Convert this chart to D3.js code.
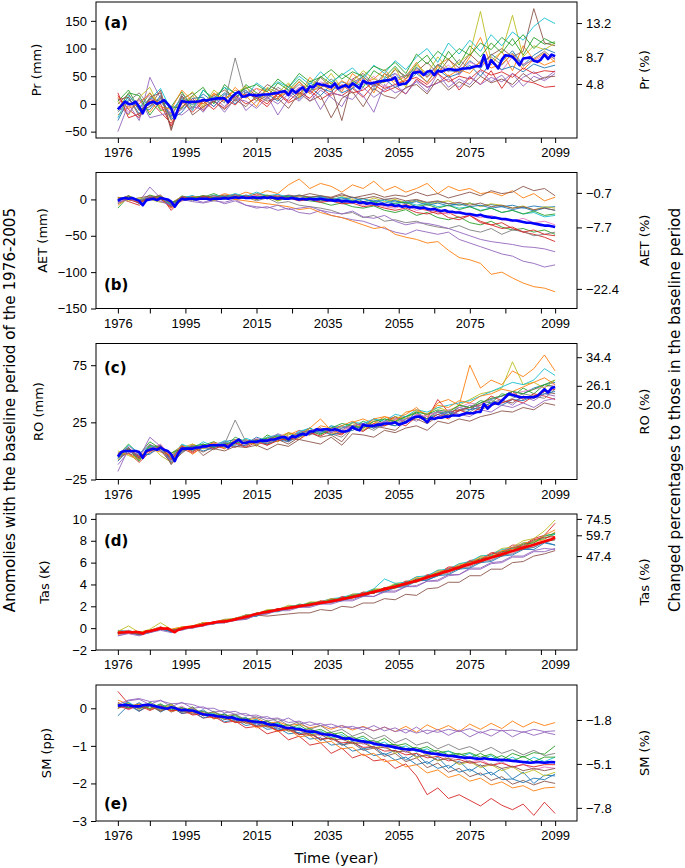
<!DOCTYPE html>
<html>
<head>
<meta charset="utf-8">
<script src="https://cdn.jsdelivr.net/npm/d3@7"></script>
<style>
body { margin: 0; background: #fff; }
svg { font-family: "DejaVu Sans", sans-serif; }
</style>
</head>
<body>
<div id="container"></div>
<script>
// years: ensemble members are read every 3 years, the ensemble mean every year
const memberYears = d3.range(1976, 2100, 3)
const meanYears = d3.range(1976, 2100)
const xTicks = [1976, 1985, 1995, 2005, 2015, 2025, 2035, 2045, 2055, 2065, 2075, 2085, 2095, 2099]
const xTickLabels = [1976, 1995, 2015, 2035, 2055, 2075, 2099]

// (a) precipitation anomaly (mm)
const prTicks = [-50, 0, 50, 100, 150]
const prPctAt = [146, 85, 36]
const prPctLabels = ["13.2", "8.7", "4.8"]
const prMean = [-10,-3,4,0,0,4,-5,-17,-2,2, 4,0,3,7,0,-8,-26,-8,5,4, 3,4,4,5,7,6,8,9,10,10,
  10,3,12,18,22,13,14,17,16,15, 16,17,17,18,19,20,22,23,16,26, 20,25,30,22,32,30,37,35,34,32,
  30,37,28,31,34,30,37,33,28,42, 38,37,38,40,41,42,43,44,48,34, 36,37,43,56,57,58,52,58,60,52,
  60,58,61,63,62,61,62,64,64,65, 67,68,68,88,64,79,72,64,80,88, 87,85,78,70,82,83,84,78,76,80,
  89,81,89,86]
const prMembers = [
  [-8,12,-18,10,5,-22,14,-2,18,3,20,12,25,6,28,12,30,18,38,28,22,40,33,50,30,46,55,34,66,52,70,60,58,78,64,90,76,96,70,88,100,92],
  [-20,-5,8,-15,12,-30,0,15,-8,20,5,30,10,28,22,8,35,15,48,30,40,22,55,38,45,62,40,50,75,48,70,82,55,85,120,70,95,60,105,80,92,75],
  [5,25,-10,20,-12,-5,22,-8,25,10,30,5,35,20,12,38,25,45,28,50,36,55,42,30,60,48,68,45,72,88,60,95,70,105,85,110,92,118,88,120,108,112],
  [15,-10,-25,5,-15,-35,-5,10,-12,5,-8,15,0,10,-5,18,2,12,25,8,20,15,28,12,35,22,30,18,45,30,38,52,25,48,35,60,28,55,42,38,30,32],
  [-50,0,-30,48,10,-20,-10,5,-15,12,-5,20,-12,5,15,-20,10,30,5,25,12,-5,30,15,-15,35,20,28,40,22,55,30,45,35,60,40,52,30,48,58,45,60],
  [0,18,-12,-5,25,-45,8,20,0,15,25,10,30,15,35,25,18,40,22,48,30,-30,45,55,35,40,62,50,58,75,55,80,65,90,72,88,100,85,95,172,110,105],
  [10,-15,5,15,-8,-15,12,-10,10,-5,15,5,20,28,10,25,15,30,20,40,32,25,45,35,50,30,55,45,62,50,58,70,52,75,68,80,60,85,72,78,88,82],
  [-15,5,20,-5,10,-25,18,0,5,15,2,83,12,20,8,30,18,35,25,28,45,30,38,50,32,55,45,52,65,48,72,58,80,62,75,85,70,92,68,82,95,80],
  [5,-20,12,30,-10,-18,5,22,-5,25,10,18,32,5,30,20,38,12,42,30,55,28,40,60,45,38,65,30,70,55,85,62,75,90,167,78,95,160,85,105,98,110],
  [-25,15,-5,8,28,-12,10,-12,25,8,30,20,12,38,25,40,30,50,35,58,40,52,65,45,70,55,78,62,85,100,75,110,90,115,95,125,105,130,115,140,155,145],
  [-30,8,-8,-10,15,-28,-15,10,12,-5,18,0,22,10,18,5,25,8,30,15,35,20,28,40,25,45,30,38,55,40,62,48,55,70,50,75,62,68,58,72,65,70],
  [12,-8,0,20,-5,-10,25,5,0,18,8,25,15,-5,28,12,22,40,18,35,25,42,30,48,20,55,35,45,60,38,68,50,62,55,78,65,72,90,62,80,70,78],
  [-12,20,15,-20,5,-5,-8,15,30,0,35,18,28,35,22,45,30,55,40,48,62,45,58,50,68,60,75,55,90,72,95,80,100,88,110,98,120,105,125,100,118,108],
  [20,-25,-18,8,0,-40,5,-15,5,-10,10,-2,18,12,0,20,5,22,10,30,15,35,20,25,40,28,35,42,48,35,55,40,50,45,62,52,58,48,65,55,60,58],
  [-5,-18,10,-25,-20,-15,-20,-5,-10,8,-15,10,5,-8,12,0,18,5,25,-10,20,15,8,30,12,25,35,18,42,30,38,45,30,50,35,48,40,55,32,50,42,55],
  [8,12,-22,12,20,-48,15,-20,-5,5,-10,8,-5,15,5,10,-8,20,5,15,-25,10,22,-5,28,15,10,30,35,18,45,25,40,30,50,38,45,35,55,40,48,50]
]

// (b) actual evapotranspiration anomaly (mm)
const aetTicks = [-150, -100, -50, 0]
const aetPctAt = [9, -38.5, -123]
const aetPctLabels = ["−0.7", "−7.7", "−22.4"]
const aetMean = [-2,1,2,1,2,0,-2,-8,-1,0, 1,-1,2,1,0,-3,-10,-3,1,0, 1,1,0,1,1,1,0,1,1,1,
  2,1,2,3,2,3,2,2,3,2, 2,3,2,3,2,1,2,1,1,2, 1,0,1,0,1,0,0,1,0,-1,
  -1,-2,-1,-3,-2,-3,-4,-3,-5,-4, -6,-5,-6,-7,-6,-7,-8,-7,-9,-8, -10,-9,-11,-10,-11,-12,-11,-13,-14,-13,
  -15,-16,-15,-17,-17,-18,-18,-19,-20,-20, -21,-22,-21,-23,-24,-25,-25,-26,-27,-27, -28,-29,-29,-30,-31,-32,-32,-33,-34,-35,
  -36,-36,-37,-38]
const aetMembers = [
  [0,3,-5,2,4,-6,2,5,0,3,5,2,6,3,4,2,5,1,3,4,0,2,-2,1,-3,0,-2,-4,-1,-5,-3,-6,-8,-5,-9,-7,-10,-8,-12,-9,-11,-10],
  [-5,2,-3,4,0,-8,3,1,5,2,8,4,10,6,12,8,20,28,15,22,18,10,20,15,25,12,18,10,15,22,8,18,12,15,8,10,5,12,2,8,-2,3],
  [-12,4,-2,6,2,-10,5,0,3,8,2,6,4,0,5,-2,3,0,-2,-4,-8,-5,-10,-12,-9,-15,-18,-14,-22,-18,-25,-28,-24,-32,-35,-30,-38,-42,-40,-45,-42,-48],
  [2,-3,-8,0,5,-15,0,4,2,-1,4,7,2,5,3,6,2,5,3,0,2,-2,-4,-3,-6,-8,-10,-7,-12,-15,-20,-18,-25,-22,-30,-35,-32,-40,-45,-48,-52,-58],
  [-2,5,-3,17,2,-10,0,-3,-5,-2,-4,0,-8,-12,-10,-15,-12,-18,-20,-15,-22,-25,-28,-30,-35,-40,-45,-48,-42,-45,-48,-45,-55,-60,-65,-70,-75,-78,-85,-88,-93,-90],
  [3,0,2,5,0,-5,4,2,5,3,6,4,2,8,5,3,6,4,8,5,3,8,2,5,8,3,6,4,10,5,8,2,6,10,5,12,8,10,18,12,15,5],
  [-4,2,0,3,-2,-6,3,2,0,4,1,5,2,6,3,5,0,4,2,-3,0,-5,-2,-8,-5,-10,-12,-8,-15,-12,-18,-20,-16,-22,-25,-22,-28,-30,-26,-32,-30,-35],
  [-6,1,-4,0,3,-8,2,-2,4,0,2,6,3,-2,2,-5,-3,-8,-10,-12,-15,-20,-18,-25,-22,-30,-28,-32,-30,-35,-38,-40,-36,-42,-45,-40,-48,-42,-44,-50,-48,-45],
  [3,-2,2,0,-4,-5,4,0,2,-2,5,0,3,0,4,-2,3,5,0,2,-2,4,0,-4,2,-3,0,-5,-2,-6,-4,-2,-8,-5,-10,-6,-8,-12,-9,-15,-10,-12],
  [1,4,-1,3,0,-7,2,5,1,6,3,8,4,10,5,7,3,6,2,5,0,3,-2,1,-4,-1,-6,-3,-8,-5,-10,-8,-12,-10,-15,-12,-18,-15,-20,-18,-24,-22],
  [-1,3,-6,1,2,-9,1,3,0,2,4,3,2,4,1,3,5,2,0,3,-2,0,3,-3,-1,-5,-2,-6,-3,-8,-5,-9,-6,-10,-8,-12,-10,-14,-11,-16,-12,-15],
  [-8,2,-4,0,3,-12,-2,4,2,0,3,0,-2,-4,-6,-8,-10,-14,-12,-18,-22,-25,-30,-35,-40,-38,-48,-52,-55,-60,-58,-70,-80,-83,-88,-103,-100,-108,-115,-120,-122,-127],
  [-3,5,-1,2,4,-4,0,2,5,2,0,4,1,3,6,2,4,0,3,-2,1,-4,-2,-6,-3,-8,-5,-4,-10,-7,-12,-8,-14,-10,-16,-12,-18,-15,-20,-16,-22,-20],
  [2,0,-5,3,1,-11,3,0,4,1,3,2,5,1,3,0,2,-2,0,-4,-2,-6,-5,-10,-8,-12,-15,-12,-18,-20,-16,-25,-28,-22,-32,-35,-40,-38,-45,-42,-48,-50],
  [-4,0,-2,4,-3,-8,-2,0,-4,0,-6,-2,-8,-10,-12,-8,-14,-12,-10,-15,-18,-20,-16,-24,-26,-22,-30,-35,-32,-33,-36,-40,-45,-50,-55,-58,-60,-62,-65,-66,-68,-72],
  [0,5,-3,2,6,-7,4,1,3,5,2,4,3,1,5,4,2,6,3,5,2,6,3,1,4,0,2,-2,0,-4,-2,-6,-4,-8,-5,-10,-8,-12,-10,-14,-12,-15]
]

// (c) runoff anomaly (mm)
const roTicks = [-25, 25, 75]
const roPctAt = [82, 57, 41]
const roPctLabels = ["34.4", "26.1", "20.0"]
const roMean = [-5,-1,0,0,0,0,-1,-6,0,1, 2,1,3,1,0,-3,-9,-2,2,2, 2,2,3,3,4,4,5,5,5,5,
  5,3,6,8,10,7,7,8,8,8, 9,9,9,10,10,11,12,12,10,13, 12,14,15,14,17,17,19,18,19,19,
  18,19,18,17,17,18,21,19,18,23, 22,22,22,23,23,24,24,24,25,23, 24,25,27,29,30,30,28,25,29,28,
  29,29,30,30,31,31,31,32,33,33, 33,34,34,41,37,40,42,41,44,47, 50,49,48,47,47,47,47,47,48,51,
  54,51,55,56]
const roMembers = [
  [-2,3,-8,4,0,-5,5,2,6,3,8,10,6,12,9,14,12,16,20,15,22,18,25,22,28,24,30,26,34,28,35,32,38,36,42,45,48,52,50,55,58,60],
  [-8,2,-4,0,5,-6,0,6,2,8,4,6,10,5,12,8,14,18,15,22,20,16,25,28,24,30,28,32,38,30,42,45,40,75,55,62,58,70,65,72,84,70],
  [-4,6,-3,8,2,-2,4,0,5,8,3,12,8,6,14,10,16,12,20,15,18,22,20,26,22,28,25,30,33,28,35,30,40,38,44,42,50,48,55,50,58,62],
  [-6,-2,-10,-1,4,-8,2,-2,3,5,2,8,4,10,6,12,8,15,14,20,16,14,22,24,20,26,30,24,32,28,45,34,36,38,40,48,44,52,45,50,48,45],
  [-18,2,-6,12,4,-4,0,4,2,6,8,5,10,6,8,12,10,18,15,16,20,22,18,24,20,22,28,30,26,32,34,30,35,40,38,42,45,40,48,44,50,48],
  [-4,-2,-6,3,5,-12,0,3,-1,4,6,3,8,10,5,10,6,12,16,12,14,8,20,18,22,20,18,26,28,24,30,32,35,38,36,40,44,42,48,46,52,50],
  [-3,4,-2,1,6,-5,3,5,4,7,5,9,6,11,8,10,12,14,18,16,20,18,22,20,26,24,28,26,32,30,34,36,38,42,40,46,48,50,52,54,56,58],
  [-6,0,-5,-2,2,-8,4,0,3,1,6,27,8,10,7,12,9,16,14,18,15,12,20,22,18,24,22,28,30,26,34,30,36,34,40,44,42,46,50,48,46,54],
  [0,-4,-8,6,-4,-10,3,6,2,5,4,6,10,4,12,8,15,10,18,20,14,20,24,18,26,22,30,28,35,32,38,35,40,45,50,52,55,78,58,60,55,62],
  [-7,5,-2,4,3,-6,6,2,8,4,9,6,11,8,12,14,10,17,20,16,22,20,25,24,28,26,32,30,36,34,38,40,42,44,48,52,56,60,58,62,72,66],
  [-9,1,-4,-3,5,-10,-1,4,0,3,7,4,5,9,6,10,8,13,15,18,14,16,18,22,20,24,22,26,30,28,32,34,30,36,38,42,40,45,44,48,50,52],
  [-2,-3,-7,2,-1,-4,5,-3,4,7,2,10,6,8,10,12,16,14,20,28,18,22,26,20,28,30,26,34,36,32,40,38,44,42,48,50,54,52,56,60,64,58],
  [-5,2,-9,5,3,-2,2,4,6,3,6,8,7,9,11,13,9,15,18,14,20,24,22,20,26,28,26,30,34,32,36,34,40,38,42,46,48,52,50,54,58,56],
  [-3,1,-5,0,4,-7,4,-1,5,2,5,7,3,8,5,9,11,10,16,13,18,15,20,17,24,22,25,22,30,26,32,28,36,32,38,40,42,45,42,48,52,54],
  [-12,-1,-3,6,0,-9,1,2,3,6,4,8,9,7,10,15,12,14,18,20,16,20,22,24,22,26,24,28,30,26,30,35,32,30,36,34,40,38,42,38,44,46],
  [-5,3,-7,2,1,-11,-2,5,-4,2,0,4,3,5,1,6,4,10,8,6,12,5,15,14,12,18,16,20,22,18,26,24,28,26,30,32,35,34,38,36,42,40]
]

// (d) near-surface air temperature anomaly (K)
const tasTicks = [-2, 0, 2, 4, 6, 8, 10]
const tasPctAt = [10.0, 8.5, 6.6]
const tasPctLabels = ["74.5", "59.7", "47.4"]
const tasMean = [-0.42,-0.40,-0.38,-0.35,-0.40,-0.33,-0.38,-0.50,-0.30,-0.28,
  -0.20,-0.12,0.00,-0.05,-0.02,-0.20,-0.38,-0.15,-0.05,0.05, 0.10,0.12,0.20,0.25,0.32,0.40,0.45,0.50,0.58,0.60,
  0.62,0.65,0.72,0.80,0.88,0.95,1.05,1.10,1.22,1.30, 1.36,1.45,1.50,1.56,1.62,1.66,1.75,1.80,1.84,1.90,
  1.95,2.00,2.06,2.10,2.15,2.21,2.26,2.30,2.36,2.40, 2.46,2.52,2.58,2.65,2.72,2.78,2.86,2.92,3.00,3.08,
  3.15,3.24,3.32,3.40,3.48,3.56,3.64,3.72,3.80,3.88, 3.98,4.06,4.16,4.25,4.35,4.44,4.54,4.64,4.74,4.84,
  4.94,5.04,5.14,5.24,5.34,5.45,5.55,5.66,5.76,5.86, 5.96,6.06,6.16,6.26,6.36,6.46,6.56,6.66,6.76,6.86,
  6.96,7.06,7.16,7.26,7.36,7.45,7.55,7.64,7.74,7.84, 7.94,8.04,8.14,8.32]
const tasMembers = [
  [-0.2,-0.3,-0.4,-0.2,0.1,-0.4,0.0,0.2,0.5,0.4,0.7,0.9,1.2,1.1,1.6,1.7,1.9,2.1,2.1,2.4,2.6,2.5,3.0,3.0,3.3,3.6,3.8,3.9,4.5,4.4,4.8,5.3,5.4,5.9,6.0,6.5,6.6,7.1,7.2,7.4,7.9,7.6],
  [-0.6,-0.3,-0.5,-0.3,0.1,-0.2,-0.1,0.2,0.2,0.6,0.5,0.9,0.9,1.4,1.4,1.8,1.7,2.1,2.0,2.5,2.3,2.8,2.7,3.3,3.2,3.7,3.6,4.3,4.2,4.8,4.9,5.4,5.5,6.1,6.0,6.7,6.7,7.3,7.4,7.9,8.1,8.8],
  [-0.4,-0.2,-0.5,-0.2,0.0,-0.3,0.1,0.0,0.4,0.5,0.6,0.9,1.0,1.4,1.4,1.7,1.8,2.2,2.1,2.4,2.5,2.7,2.8,3.2,3.2,3.7,3.8,4.2,4.3,4.8,4.9,5.4,5.5,6.0,6.2,6.6,6.8,7.3,7.4,8.0,8.2,8.6],
  [-0.5,-0.4,-0.6,-0.3,-0.1,-0.2,-0.1,0.2,0.2,0.6,0.5,0.9,0.9,1.3,1.5,1.8,1.8,2.1,2.2,2.4,2.4,2.9,2.9,3.3,3.2,3.7,3.9,4.3,4.3,4.9,5.0,5.6,5.6,6.2,6.3,6.9,7.0,7.6,7.6,8.2,8.5,9.6],
  [-0.7,-0.4,-0.6,-0.4,-0.1,-0.3,-0.2,0.1,0.2,0.5,0.5,0.8,0.9,1.3,1.3,1.7,1.7,2.0,2.0,2.3,2.3,2.6,2.6,3.0,2.9,3.4,3.4,3.8,3.9,4.3,4.4,4.9,4.9,5.5,5.5,6.0,6.1,6.6,6.6,7.1,7.3,7.2],
  [-0.4,-0.3,-0.5,-0.3,0.0,-0.2,-0.1,0.2,0.3,0.5,0.5,0.8,0.8,1.2,1.1,1.2,1.3,1.4,1.4,1.7,1.6,2.0,1.9,2.3,2.3,2.7,2.6,3.1,3.0,3.6,3.7,4.2,4.2,4.8,4.8,5.4,5.4,6.0,6.1,6.6,6.8,7.1],
  [-0.4,-0.2,-0.5,-0.2,0.1,-0.2,0.1,0.1,0.4,0.5,0.7,0.8,1.1,1.2,1.6,1.6,1.9,1.9,2.2,2.3,2.6,2.6,2.9,3.0,3.4,3.4,3.9,3.9,4.4,4.5,5.0,5.1,5.6,5.7,6.2,6.3,6.8,6.9,7.4,7.5,8.0,8.2],
  [-0.4,-0.4,-0.3,-0.3,0.1,-0.3,0.0,0.1,0.4,0.4,0.7,0.7,1.2,1.1,1.5,1.6,1.9,2.0,2.2,2.3,2.5,2.7,2.9,2.9,3.4,3.4,3.8,3.9,4.4,4.4,4.9,5.0,5.5,5.6,6.1,6.2,6.7,6.8,7.3,7.4,7.9,8.1],
  [-0.3,0.2,-0.4,-0.1,0.5,-0.1,0.1,0.2,0.5,0.5,0.8,0.9,1.2,1.3,1.7,1.7,2.1,2.0,2.4,2.4,2.7,2.7,3.1,3.1,3.6,3.6,4.1,4.1,4.7,4.7,5.3,5.3,5.9,6.0,6.6,6.7,7.3,7.4,8.0,8.2,8.9,9.9],
  [-0.5,-0.3,-0.6,-0.3,0.0,-0.3,0.0,0.1,0.4,0.5,0.8,0.8,1.2,1.3,1.6,1.7,2.0,2.1,2.3,2.4,2.7,2.8,3.1,3.2,3.6,4.5,4.1,4.2,4.7,4.8,5.3,5.4,5.9,6.1,6.6,6.7,7.2,7.3,7.8,7.9,8.5,8.6],
  [-0.5,-0.4,-0.6,-0.4,-0.1,-0.3,-0.1,0.1,0.3,0.4,0.6,0.7,1.0,1.1,1.5,1.5,1.8,1.9,2.1,2.2,2.4,2.5,2.8,2.9,3.3,3.3,3.7,3.8,4.3,4.4,4.8,4.9,5.4,5.5,6.0,6.1,6.6,6.7,7.2,7.2,7.8,7.6],
  [-0.3,-0.3,-0.4,-0.2,0.1,-0.1,0.1,0.2,0.5,0.5,0.8,0.8,1.2,1.2,1.6,1.6,2.0,2.0,2.3,2.3,2.7,2.6,3.1,3.1,3.5,3.5,4.0,4.1,4.6,4.6,5.2,5.3,5.8,5.9,6.5,6.5,7.1,7.2,7.8,7.9,8.5,9.0],
  [-0.5,-0.3,-0.5,-0.3,0.0,-0.2,0.0,0.1,0.4,0.4,0.7,0.8,1.1,1.2,1.6,1.6,1.9,2.0,2.3,2.3,2.6,2.7,3.0,3.1,3.5,3.5,4.0,4.0,4.5,4.6,5.1,5.2,5.7,5.8,6.4,6.4,7.0,7.1,7.7,7.8,8.4,8.7],
  [-0.4,-0.3,-0.5,-0.2,0.0,-0.2,-0.1,0.2,0.3,0.6,0.6,0.9,1.0,1.3,1.4,1.8,1.8,2.1,2.1,2.5,2.4,2.8,2.8,3.2,3.3,3.7,3.8,4.2,4.3,4.8,4.9,5.5,5.6,6.1,6.2,6.8,6.9,7.4,7.5,8.1,8.3,8.4],
  [-0.7,-0.5,-0.7,-0.4,-0.2,-0.4,-0.1,0.0,0.2,0.4,0.5,0.7,0.8,1.2,1.3,1.6,1.6,1.9,1.9,2.2,2.2,2.5,2.5,2.9,2.9,3.3,3.3,3.8,3.8,4.3,4.3,4.8,4.9,5.4,5.4,5.9,6.0,6.5,6.5,7.0,7.0,7.3],
  [-0.4,-0.3,-0.6,-0.3,0.0,-0.2,-0.1,0.1,0.3,0.5,0.6,0.8,1.0,1.3,1.4,1.7,1.8,2.0,2.1,2.4,2.4,2.7,2.8,3.1,3.2,3.6,3.7,4.1,4.2,4.7,4.8,5.3,5.4,5.9,6.0,6.5,6.6,7.1,7.2,7.7,7.9,8.1]
]

// (e) soil moisture anomaly (pp)
const smTicks = [-3, -2, -1, 0]
const smPctAt = [-0.31, -1.48, -2.65]
const smPctLabels = ["−1.8", "−5.1", "−7.8"]
const smMean = [0.07,0.08,0.09,0.08,0.06,0.05,0.05,0.08,0.09,0.09,
  0.07,0.04,0.02,0.00,-0.01,0.03,0.01,-0.03,-0.05,-0.04, -0.06,-0.06,-0.09,-0.13,-0.16,-0.17,-0.18,-0.19,-0.21,-0.22,
  -0.23,-0.25,-0.24,-0.27,-0.30,-0.31,-0.31,-0.34,-0.35,-0.36, -0.37,-0.38,-0.42,-0.44,-0.43,-0.46,-0.48,-0.51,-0.53,-0.52,
  -0.55,-0.56,-0.58,-0.61,-0.62,-0.62,-0.64,-0.67,-0.69,-0.70, -0.71,-0.73,-0.76,-0.79,-0.81,-0.80,-0.83,-0.85,-0.87,-0.88,
  -0.90,-0.91,-0.94,-0.96,-0.97,-0.99,-1.00,-1.02,-1.04,-1.06, -1.08,-1.09,-1.10,-1.09,-1.11,-1.13,-1.16,-1.18,-1.20,-1.21,
  -1.22,-1.24,-1.25,-1.27,-1.27,-1.28,-1.30,-1.31,-1.32,-1.31, -1.33,-1.34,-1.35,-1.33,-1.35,-1.36,-1.37,-1.38,-1.37,-1.38,
  -1.39,-1.40,-1.41,-1.42,-1.43,-1.44,-1.45,-1.44,-1.43,-1.44, -1.45,-1.44,-1.43,-1.44]
const smMembers = [
  [0.1,0.0,0.15,-0.02,0.1,-0.08,0.02,-0.14,-0.04,-0.24,-0.14,-0.34,-0.24,-0.46,-0.34,-0.58,-0.5,-0.68,-0.6,-0.86,-0.7,-0.98,-0.88,-1.08,-1.02,-1.24,-1.12,-1.38,-1.2,-1.48,-1.3,-1.6,-1.4,-1.68,-1.5,-1.78,-1.6,-1.88,-1.7,-2.0,-1.78,-1.8],
  [0.22,0.1,0.08,0.12,-0.04,0.1,-0.08,0.02,-0.16,-0.1,-0.24,-0.18,-0.32,-0.26,-0.4,-0.36,-0.46,-0.42,-0.52,-0.46,-0.56,-0.46,-0.58,-0.48,-0.6,-0.5,-0.62,-0.48,-0.64,-0.44,-0.58,-0.46,-0.62,-0.42,-0.56,-0.4,-0.54,-0.34,-0.5,-0.36,-0.46,-0.38],
  [0.05,0.15,-0.02,0.16,0.02,0.12,-0.1,0.04,-0.2,-0.08,-0.28,-0.16,-0.36,-0.3,-0.44,-0.38,-0.54,-0.44,-0.62,-0.56,-0.7,-0.64,-0.84,-0.74,-0.94,-0.8,-1.0,-0.94,-1.1,-1.02,-1.18,-1.14,-1.24,-1.18,-1.3,-1.22,-1.38,-1.2,-1.3,-1.18,-1.22,-1.0],
  [0.45,0.12,-0.08,0.08,-0.06,0.04,-0.14,-0.1,-0.26,-0.22,-0.38,-0.34,-0.52,-0.48,-0.68,-0.6,-0.84,-0.74,-0.98,-0.92,-1.2,-1.06,-1.32,-1.22,-1.4,-1.36,-1.6,-1.48,-1.8,-2.3,-2.12,-2.4,-2.3,-2.45,-2.6,-2.4,-2.58,-2.7,-2.55,-2.85,-2.5,-2.8],
  [0.0,0.2,0.24,0.1,0.22,0.04,0.16,0.0,0.04,-0.1,-0.06,-0.16,-0.14,-0.26,-0.22,-0.36,-0.26,-0.42,-0.36,-0.46,-0.42,-0.52,-0.48,-0.58,-0.46,-0.6,-0.52,-0.66,-0.5,-0.68,-0.56,-0.72,-0.58,-0.76,-0.62,-0.74,-0.58,-0.76,-0.62,-0.72,-0.64,-0.7],
  [0.16,0.0,0.12,-0.04,0.08,-0.1,0.0,-0.16,-0.12,-0.28,-0.22,-0.36,-0.3,-0.48,-0.42,-0.6,-0.52,-0.7,-0.66,-0.84,-0.78,-0.98,-0.92,-1.12,-1.06,-1.28,-1.2,-1.42,-1.32,-1.58,-1.46,-1.7,-1.6,-1.82,-1.72,-1.92,-1.82,-2.02,-1.92,-2.04,-1.94,-2.0],
  [0.1,-0.04,0.08,0.1,0.04,-0.06,0.06,-0.12,-0.08,-0.22,-0.16,-0.32,-0.28,-0.42,-0.34,-0.54,-0.46,-0.6,-0.56,-0.74,-0.66,-0.84,-0.78,-0.96,-0.88,-1.06,-0.98,-1.18,-1.08,-1.26,-1.18,-1.36,-1.28,-1.44,-1.36,-1.52,-1.42,-1.58,-1.48,-1.64,-1.56,-1.6],
  [0.02,0.1,-0.06,0.08,-0.04,0.06,-0.1,0.0,-0.14,-0.1,-0.2,-0.16,-0.3,-0.22,-0.34,-0.28,-0.46,-0.36,-0.56,-0.46,-0.64,-0.56,-0.74,-0.64,-0.82,-0.72,-0.92,-0.8,-0.98,-0.9,-1.08,-0.96,-1.1,-1.02,-1.16,-1.04,-1.2,-1.1,-1.24,-1.12,-1.26,-1.2],
  [0.0,0.12,-0.02,0.1,-0.08,0.08,-0.06,-0.02,-0.18,-0.12,-0.3,-0.2,-0.4,-0.32,-0.5,-0.42,-0.62,-0.5,-0.72,-0.62,-0.82,-0.74,-0.94,-0.86,-1.06,-0.98,-1.2,-1.08,-1.32,-1.22,-1.4,-1.32,-1.5,-1.42,-1.58,-1.5,-1.66,-1.56,-1.74,-1.64,-1.8,-1.7],
  [0.06,0.16,0.0,0.12,-0.02,0.04,-0.08,-0.06,-0.16,-0.14,-0.28,-0.2,-0.36,-0.3,-0.48,-0.4,-0.56,-0.5,-0.68,-0.6,-0.78,-0.7,-0.88,-0.8,-0.98,-0.9,-1.08,-1.0,-1.16,-1.08,-1.24,-1.14,-1.3,-1.2,-1.36,-1.26,-1.42,-1.3,-1.46,-1.3,-1.42,-1.3],
  [-0.2,0.08,-0.08,0.1,-0.1,0.04,-0.14,-0.08,-0.26,-0.16,-0.36,-0.3,-0.46,-0.4,-0.56,-0.52,-0.68,-0.64,-0.82,-0.78,-0.98,-0.94,-1.14,-1.08,-1.26,-1.2,-1.38,-1.3,-1.5,-1.42,-1.6,-1.52,-1.7,-1.62,-1.78,-1.7,-1.9,-1.88,-1.98,-1.86,-1.9,-1.75],
  [0.14,0.04,0.1,-0.02,0.06,-0.08,-0.02,-0.12,-0.12,-0.28,-0.22,-0.38,-0.34,-0.52,-0.46,-0.62,-0.56,-0.76,-0.72,-0.92,-0.88,-1.08,-1.04,-1.26,-1.2,-1.42,-1.38,-1.56,-1.5,-1.72,-1.64,-1.84,-1.76,-1.94,-1.86,-2.04,-1.96,-2.12,-2.06,-2.2,-2.12,-2.1],
  [0.12,0.02,0.08,0.0,0.12,-0.04,0.02,-0.08,-0.08,-0.2,-0.16,-0.28,-0.26,-0.38,-0.34,-0.48,-0.44,-0.58,-0.54,-0.68,-0.64,-0.78,-0.76,-0.88,-0.86,-0.98,-0.96,-1.08,-1.04,-1.16,-1.12,-1.24,-1.2,-1.32,-1.2,-1.36,-1.26,-1.4,-1.28,-1.42,-1.3,-1.3],
  [0.06,-0.02,0.08,-0.06,0.06,-0.06,-0.04,-0.18,-0.14,-0.26,-0.24,-0.38,-0.36,-0.48,-0.46,-0.6,-0.56,-0.7,-0.68,-0.82,-0.8,-0.92,-0.9,-1.04,-1.02,-1.14,-1.12,-1.24,-1.2,-1.32,-1.28,-1.4,-1.36,-1.46,-1.42,-1.52,-1.46,-1.56,-1.5,-1.56,-1.5,-1.5],
  [0.1,0.22,0.26,0.18,0.2,0.12,0.14,0.1,0.0,0.0,-0.12,-0.08,-0.2,-0.18,-0.28,-0.26,-0.38,-0.34,-0.46,-0.4,-0.52,-0.46,-0.54,-0.5,-0.6,-0.5,-0.62,-0.56,-0.66,-0.58,-0.64,-0.56,-0.62,-0.54,-0.66,-0.56,-0.6,-0.58,-0.64,-0.56,-0.62,-0.6],
  [0.0,0.1,0.0,0.06,-0.08,0.04,-0.1,-0.06,-0.2,-0.16,-0.3,-0.26,-0.4,-0.36,-0.5,-0.48,-0.6,-0.58,-0.72,-0.7,-0.84,-0.82,-0.94,-0.92,-1.06,-1.04,-1.16,-1.14,-1.28,-1.26,-1.38,-1.34,-1.46,-1.4,-1.54,-1.48,-1.6,-1.54,-1.66,-1.6,-1.66,-1.6]
]

main()

function main() {
    const width = 685
    const height = 868
    const left = 96
    const right = 577
    const panelHeight = 136

    const panels = [
        {members: prMembers, mean: prMean, meanColor: "#0000ff", domain: [-61.5, 184], ticks: prTicks,
         pctAt: prPctAt, pctLabels: prPctLabels, tag: "(a)", tagY: 28, name: "Pr (mm)", nameX: 36, pctName: "Pr (%)", top: 2},
        {members: aetMembers, mean: aetMean, meanColor: "#0000ff", domain: [-150, 37], ticks: aetTicks,
         pctAt: aetPctAt, pctLabels: aetPctLabels, tag: "(b)", tagY: 290, name: "AET (mm)", nameX: 42, pctName: "AET (%)", top: 172.5},
        {members: roMembers, mean: roMean, meanColor: "#0000ff", domain: [-25, 94], ticks: roTicks,
         pctAt: roPctAt, pctLabels: roPctLabels, tag: "(c)", tagY: 373, name: "RO (mm)", nameX: 38, pctName: "RO (%)", top: 343.5},
        {members: tasMembers, mean: tasMean, meanColor: "#ff0000", domain: [-2, 10.45], ticks: tasTicks,
         pctAt: tasPctAt, pctLabels: tasPctLabels, tag: "(d)", tagY: 546, name: "Tas (K)", nameX: 44, pctName: "Tas (%)", top: 514},
        {members: smMembers, mean: smMean, meanColor: "#0000ff", domain: [-3, 0.62], ticks: smTicks,
         pctAt: smPctAt, pctLabels: smPctLabels, tag: "(e)", tagY: 809, name: "SM (pp)", nameX: 46, pctName: "SM (%)", top: 685}
    ]

    const x = d3.scaleLinear()
        .domain([1976 - 0.05 * 123, 2099 + 0.05 * 123])
        .range([left, right])

    const svg = d3.create("svg")
        .attr("width", width)
        .attr("height", height)

    panels.forEach(p => draw_panel(svg, p, x, left, right, panelHeight))

    // shared labels
    svg.append("text")
        .attr("transform", "translate(10,410) rotate(-90)")
        .attr("dy", "0.35em")
        .attr("text-anchor", "middle")
        .style("font-size", "15.2px")
        .text("Anomolies with the baseline period of the 1976-2005")

    svg.append("text")
        .attr("transform", "translate(675,410) rotate(-90)")
        .attr("dy", "0.35em")
        .attr("text-anchor", "middle")
        .style("font-size", "15.2px")
        .text("Changed percentages to those in the baseline period")

    svg.append("text")
        .attr("x", (left + right) / 2)
        .attr("y", 863)
        .attr("text-anchor", "middle")
        .style("font-size", "14.5px")
        .text("Time (year)")

    container.append(svg.node())
}

function minus(v) {
    return v < 0 ? "−" + Math.abs(v) : String(v)
}

function draw_panel(svg, p, x, left, right, panelHeight) {
    const top = p.top
    const bottom = top + panelHeight
    const y = d3.scaleLinear()
        .domain(p.domain)
        .range([bottom, top])

    const g = svg.append("g")

    const memberLine = d3.line()
        .x((d, i) => x(memberYears[i]))
        .y(d => y(d))

    p.members.forEach((m, i) => {
        g.append("path")
            .datum(m)
            .attr("fill", "none")
            .attr("stroke", d3.schemeCategory10[i % 10])
            .attr("stroke-width", 0.9)
            .attr("stroke-linejoin", "round")
            .attr("d", memberLine)
    })

    const meanLine = d3.line()
        .x((d, i) => x(meanYears[i]))
        .y(d => y(d))

    g.append("path")
        .datum(p.mean)
        .attr("fill", "none")
        .attr("stroke", p.meanColor)
        .attr("stroke-width", 2.6)
        .attr("stroke-linejoin", "round")
        .attr("d", meanLine)

    // frame
    g.append("rect")
        .attr("x", left)
        .attr("y", top)
        .attr("width", right - left)
        .attr("height", panelHeight)
        .attr("fill", "none")
        .attr("stroke", "#000")
        .attr("stroke-width", 1)

    g.append("g")
        .attr("transform", `translate(0,${bottom})`)
        .call(d3.axisBottom(x).tickValues(xTicks).tickSize(5).tickPadding(5)
            .tickFormat(d => xTickLabels.includes(d) ? String(d) : ""))
        .call(a => a.select(".domain").remove())
        .call(a => a.selectAll("text").style("font-size", "13px").attr("font-family", null))

    g.append("g")
        .attr("transform", `translate(${left},0)`)
        .call(d3.axisLeft(y).tickValues(p.ticks).tickSize(5).tickPadding(4).tickFormat(minus))
        .call(a => a.select(".domain").remove())
        .call(a => a.selectAll("text").style("font-size", "13px").attr("font-family", null))

    g.append("g")
        .attr("transform", `translate(${right},0)`)
        .call(d3.axisRight(y).tickValues(p.pctAt).tickSize(5).tickPadding(4)
            .tickFormat((d, i) => p.pctLabels[i]))
        .call(a => a.select(".domain").remove())
        .call(a => a.selectAll("text").style("font-size", "13px").attr("font-family", null))

    g.append("text")
        .attr("x", 104)
        .attr("y", p.tagY)
        .style("font-size", "15px")
        .style("font-weight", "bold")
        .text(p.tag)

    g.append("text")
        .attr("transform", `translate(${p.nameX},${(top + bottom) / 2}) rotate(-90)`)
        .attr("dy", "0.35em")
        .attr("text-anchor", "middle")
        .style("font-size", "13px")
        .text(p.name)

    g.append("text")
        .attr("transform", `translate(644,${(top + bottom) / 2}) rotate(-90)`)
        .attr("dy", "0.35em")
        .attr("text-anchor", "middle")
        .style("font-size", "13px")
        .text(p.pctName)
}
</script>
</body>
</html>
